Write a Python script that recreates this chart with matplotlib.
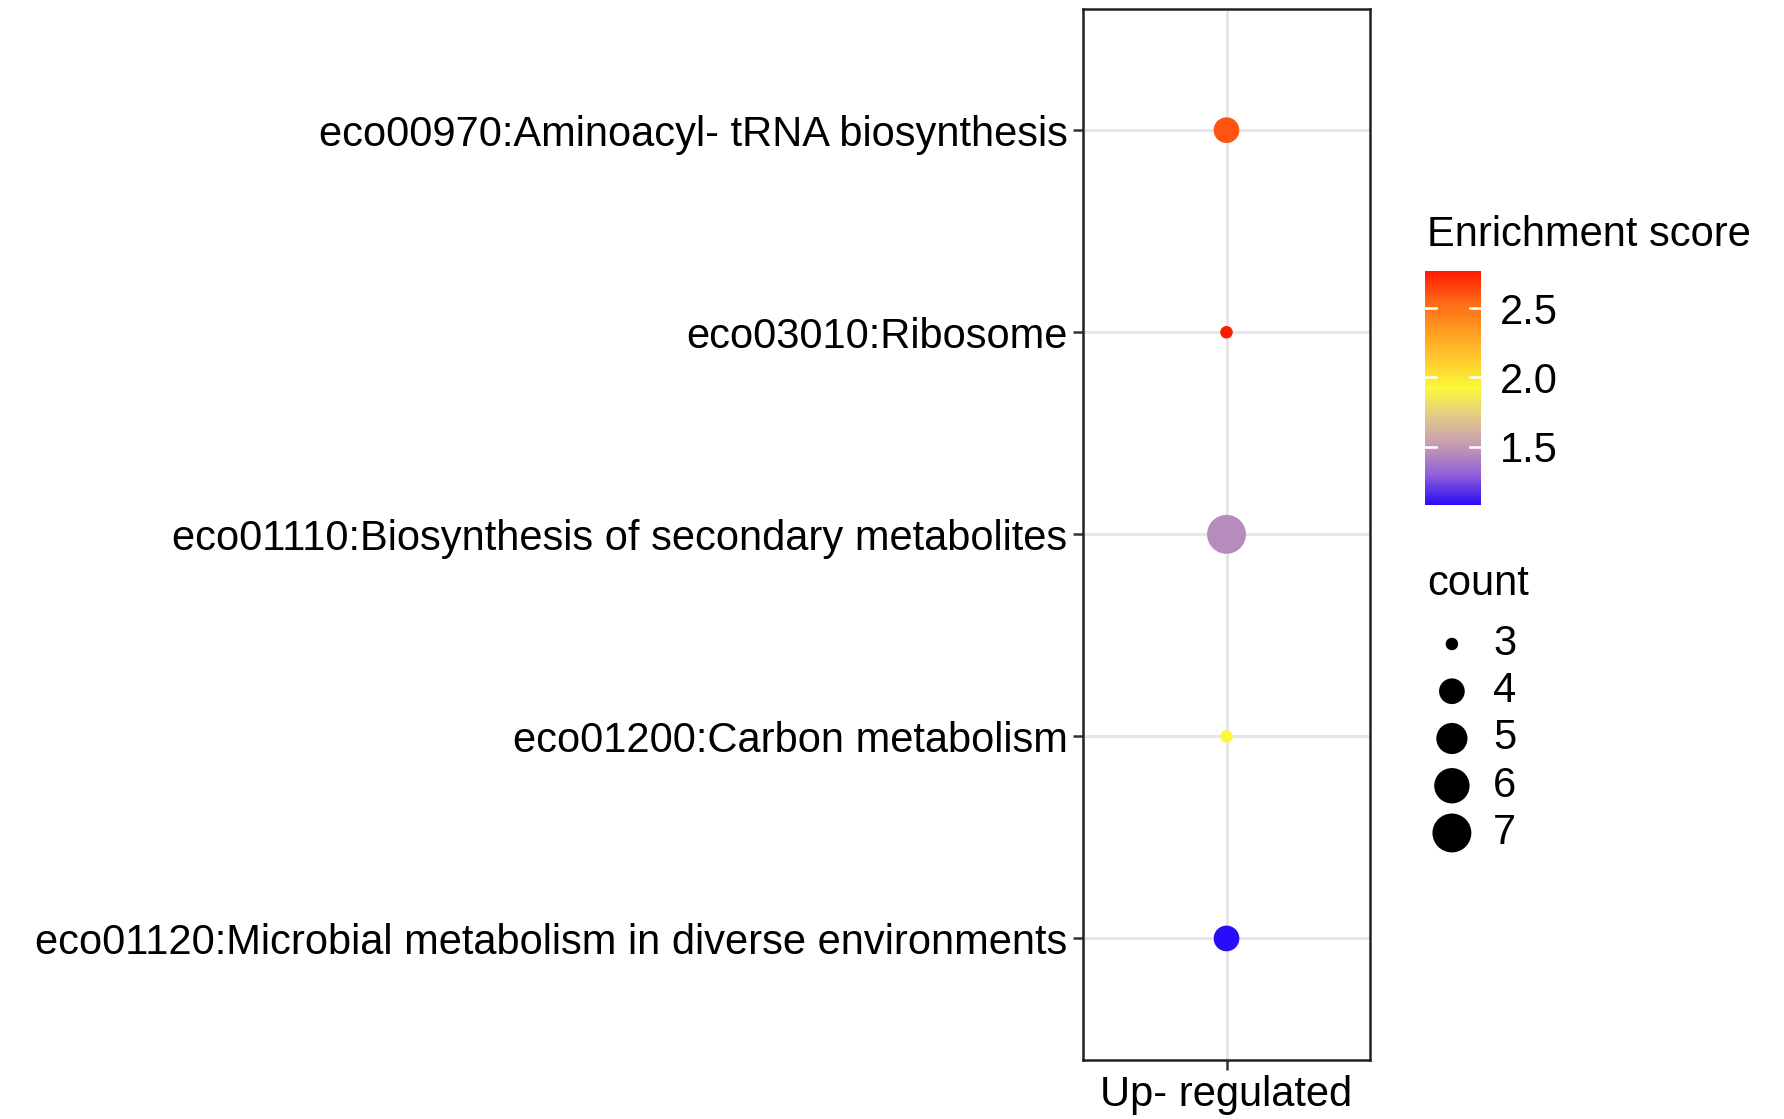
import numpy as np
import matplotlib
matplotlib.use("Agg")
import matplotlib.pyplot as plt
from matplotlib.colors import LinearSegmentedColormap, Normalize

plt.rcParams['font.family'] = ['Liberation Sans', 'DejaVu Sans']

# pathways, bottom to top as they appear on the y axis
pathways = [
    "eco01120:Microbial metabolism in diverse environments",
    "eco01200:Carbon metabolism",
    "eco01110:Biosynthesis of secondary metabolites",
    "eco03010:Ribosome",
    "eco00970:Aminoacyl- tRNA biosynthesis",
]
enrichment = [1.08, 1.93, 1.45, 2.77, 2.60]
counts = [4, 3, 7, 3, 4]
group = "Up- regulated"
count_breaks = [3, 4, 5, 6, 7]
score_ticks = [1.5, 2.0, 2.5]

FS = 30

# blue -> yellow -> red, roughly as ggplot interpolates in Lab space
cmap = LinearSegmentedColormap.from_list("enrich", [
    (0.000, "#2a0cf6"),
    (0.125, "#8f5fd8"),
    (0.250, "#c49ab4"),
    (0.375, "#e2c88a"),
    (0.500, "#fbf83a"),
    (0.625, "#ffc82e"),
    (0.750, "#ff9a22"),
    (0.875, "#ff6414"),
    (1.000, "#ff1a00"),
])
norm = Normalize(vmin=min(enrichment), vmax=max(enrichment))


def dot_size(c):
    # ggplot scale_size: area proportional, range of diameters
    d_min, d_max = 9.0, 28.0
    frac = (np.asarray(c, float) - min(count_breaks)) / (max(count_breaks) - min(count_breaks))
    d = d_min + (d_max - d_min) * np.sqrt(frac)
    return d ** 2


fig = plt.figure(figsize=(17.84, 11.19), dpi=100)
ax = fig.add_axes([0.607, 0.053, 0.161, 0.939])

y = np.arange(len(pathways))
x = np.zeros(len(pathways))
ax.set_axisbelow(True)
for yy in y:
    ax.axhline(yy, color="#e6e6e6", lw=2.2, zorder=0)
ax.axvline(0, color="#e6e6e6", lw=2.2, zorder=0)
sc = ax.scatter(x, y, s=dot_size(counts), c=enrichment, cmap=cmap, norm=norm,
                edgecolors="none", zorder=3)

ax.set_xlim(-0.6, 0.6)
ax.set_ylim(-0.6, len(pathways) - 0.4)
ax.set_xticks([0])
ax.set_xticklabels([group])
ax.set_yticks(y)
ax.set_yticklabels(pathways)
ax.tick_params(axis="both", labelsize=FS, length=7, width=1.8, color="#333333",
               labelcolor="black", pad=4)
for sp in ax.spines.values():
    sp.set_linewidth(1.8)
    sp.set_color("#222222")

# colour bar
cax = fig.add_axes([0.799, 0.549, 0.031, 0.209])
cb = fig.colorbar(sc, cax=cax, ticks=score_ticks)
cb.outline.set_visible(False)
cb.ax.tick_params(labelsize=FS, length=0, pad=14)
cb.ax.set_yticklabels([f"{t:.1f}" for t in score_ticks])
for t in score_ticks:
    cax.plot([0, 0.2], [t, t], color="white", lw=1.8, transform=cax.get_yaxis_transform())
    cax.plot([0.8, 1.0], [t, t], color="white", lw=1.8, transform=cax.get_yaxis_transform())
fig.text(0.800, 0.780, "Enrichment score", fontsize=FS, ha="left", va="baseline")

# size legend
fig.text(0.800, 0.468, "count", fontsize=FS, ha="left", va="baseline")
lax = fig.add_axes([0.800, 0.2345, 0.06, 0.2111])
lax.set_axis_off()
ly = -np.arange(len(count_breaks))
lax.scatter(np.zeros(len(count_breaks)), ly, s=dot_size(count_breaks), color="black",
            edgecolors="none")
for yy, c in zip(ly, count_breaks):
    lax.text(1.0, yy, str(c), fontsize=FS, ha="left", va="center")
lax.set_xlim(-0.6, 2.0)
lax.set_ylim(-len(count_breaks) + 0.5, 0.5)

fig.savefig("out.png", dpi=100)
